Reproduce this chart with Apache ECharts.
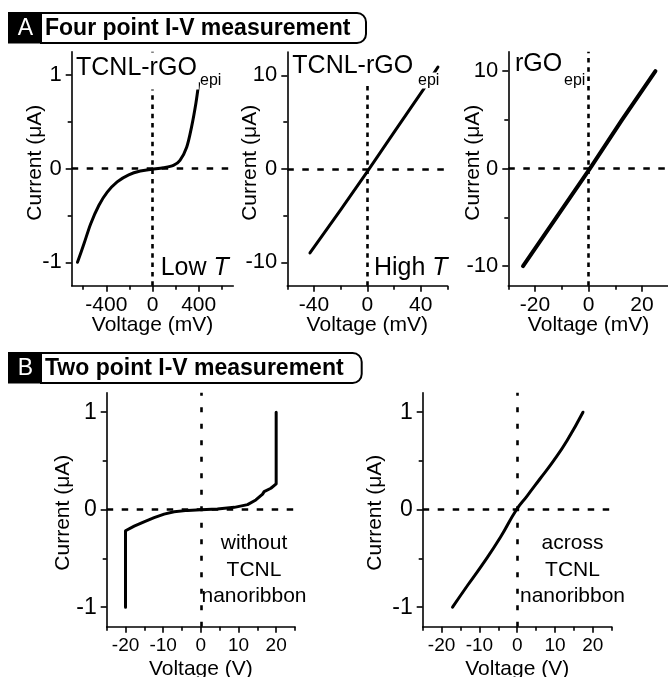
<!DOCTYPE html>
<html><head><meta charset="utf-8">
<script src="https://cdn.jsdelivr.net/npm/echarts@6/dist/echarts.min.js"></script>
<style>html,body{margin:0;padding:0;background:#fff}#c{width:668px;height:677px}</style>
</head><body><div id="c"></div>
<script>
// ---------- data ----------
// A1: TCNL-rGO_epi, low T, four point (Voltage mV, Current uA)
const a1Voltage = [-650, -593, -536, -464, -392, -306, -206, -106, -5, 95, 181, 238, 296, 339, 376, 400];
const a1Current = [-1.0, -0.80, -0.59, -0.39, -0.25, -0.14, -0.065, -0.025, -0.007, 0.01, 0.035, 0.09, 0.23, 0.45, 0.70, 0.91];
// A2: TCNL-rGO_epi, high T (mV, uA)
const a2Voltage = [-43, -20, 0, 20, 41.6, 53];
const a2Current = [-9.0, -4.4, -0.3, 3.9, 8.4, 10.9];
// A3: rGO_epi (mV, uA)
const a3Voltage = [-24.5, -12, 0.5, 12.5, 25];
const a3Current = [-10.0, -5.0, 0.0, 5.0, 10.0];
// B1: two point, without TCNL nanoribbon (V, uA)
const b1Voltage = [-20, -20, -17.7, -15.1, -12.4, -9.75, -7.1, -3.5, 0, 4.4, 8.9, 12.4, 14.6, 16.4, 16.8, 18.6, 20, 20];
const b1Current = [-1.0, -0.216, -0.168, -0.124, -0.082, -0.045, -0.021, -0.007, 0, 0.007, 0.024, 0.052, 0.10, 0.16, 0.185, 0.22, 0.265, 1.0];
// B2: two point, across TCNL nanoribbon (V, uA)
const b2Voltage = [-17.1, -13.2, -8.8, -4.4, -0.2, 2.6, 6.1, 9.6, 13.2, 17.4];
const b2Current = [-1.0, -0.78, -0.54, -0.28, 0.0, 0.14, 0.32, 0.5, 0.71, 1.0];

// tick values / labelled ticks
const a1XTicks = [-600, -400, -200, 0, 200, 400, 600];
const a1XLabels = [-400, 0, 400];
const a1YTicks = [-1, -0.5, 0, 0.5, 1];
const a1YLabels = [-1, 0, 1];
const a2XTicks = [-60, -40, -20, 0, 20, 40, 60];
const a2XLabels = [-40, 0, 40];
const a2YTicks = [-10, -5, 0, 5, 10];
const a2YLabels = [-10, 0, 10];
const a3XTicks = [-30, -20, -10, 0, 10, 20, 30];
const a3XLabels = [-20, 0, 20];
const a3YTicks = [-10, -5, 0, 5, 10];
const a3YLabels = [-10, 0, 10];
const bXTicks = [-25, -20, -15, -10, -5, 0, 5, 10, 15, 20, 25];
const bXLabels = [-20, -10, 0, 10, 20];
const bYTicks = [-1, -0.5, 0, 0.5, 1];
const bYLabels = [-1, 0, 1];

// ---------- styling / layout ----------
const FONT = '"Liberation Sans", Arial, Helvetica, sans-serif';
const BLACK = '#000';
const A_VDASH = [4.5, 4.8], B_VDASH = [5, 11.5], HDASH = [6.5, 8.5];

const panels = [
  { grid: { left: 71.7, top: 51.7, width: 161.6, height: 234 },
    x: { min: -700, max: 700, ticks: a1XTicks, labels: a1XLabels, name: 'Voltage (mV)', size: 21, margin: 9, gap: 29 },
    y: { min: -1.25, max: 1.25, ticks: a1YTicks, labels: a1YLabels, name: 'Current (\u03bcA)', size: 22, margin: 10, gap: 26, pad: [0, 0, 0, 12] },
    vx: a1Voltage, cy: a1Current, smooth: 0.3, width: 3, vdash: A_VDASH },
  { grid: { left: 287.3, top: 52, width: 160, height: 233.7 },
    x: { min: -60, max: 60, ticks: a2XTicks, labels: a2XLabels, name: 'Voltage (mV)', size: 21, margin: 9, gap: 29 },
    y: { min: -12.5, max: 12.5, ticks: a2YTicks, labels: a2YLabels, name: 'Current (\u03bcA)', size: 22, margin: 10, gap: 27, pad: [0, 0, 0, 12] },
    vx: a2Voltage, cy: a2Current, smooth: false, width: 3, vdash: A_VDASH },
  { grid: { left: 508.3, top: 51.7, width: 160.5, height: 234 },
    x: { min: -30, max: 30, ticks: a3XTicks, labels: a3XLabels, name: 'Voltage (mV)', size: 21, margin: 9, gap: 29 },
    y: { min: -12, max: 12, ticks: a3YTicks, labels: a3YLabels, name: 'Current (\u03bcA)', size: 22, margin: 10, gap: 25, pad: [0, 0, 0, 12] },
    vx: a3Voltage, cy: a3Current, smooth: false, width: 4, vdash: A_VDASH },
  { grid: { left: 106.7, top: 392.7, width: 188.3, height: 234 },
    x: { min: -25, max: 25, ticks: bXTicks, labels: bXLabels, name: 'Voltage (V)', size: 19, margin: 10, gap: 32 },
    y: { min: -1.2, max: 1.2, ticks: bYTicks, labels: bYLabels, name: 'Current (\u03bcA)', size: 23, margin: 10, gap: 33, pad: [0, 6, 0, 0] },
    vx: b1Voltage, cy: b1Current, smooth: false, width: 3, vdash: B_VDASH },
  { grid: { left: 422.7, top: 392.7, width: 189, height: 234 },
    x: { min: -25, max: 25, ticks: bXTicks, labels: bXLabels, name: 'Voltage (V)', size: 19, margin: 10, gap: 32 },
    y: { min: -1.2, max: 1.2, ticks: bYTicks, labels: bYLabels, name: 'Current (\u03bcA)', size: 23, margin: 10, gap: 37, pad: [0, 6, 0, 0] },
    vx: b2Voltage, cy: b2Current, smooth: 0.5, width: 3, vdash: B_VDASH }
];

function axisPair(dim, gi, c) {
  const minor = c.ticks.filter(v => c.labels.indexOf(v) < 0);
  const pos = dim === 'x' ? 'bottom' : 'left';
  const main = {
    type: 'value', gridIndex: gi, position: pos, min: c.min, max: c.max,
    name: c.name, nameLocation: 'middle', nameGap: c.gap, nameMoveOverlap: false,
    nameTextStyle: { fontFamily: FONT, fontSize: 21, color: BLACK, padding: c.pad || 0 },
    axisLine: { show: true, onZero: false, lineStyle: { color: BLACK, width: 1.6 } },
    axisTick: { show: true, inside: false, length: 6, customValues: c.labels, lineStyle: { color: BLACK, width: 1.6 } },
    axisLabel: { show: true, customValues: c.labels, fontFamily: FONT, fontSize: c.size, color: BLACK, margin: c.margin },
    splitLine: { show: false }, minorTick: { show: false }
  };
  const mn = {
    type: 'value', gridIndex: gi, position: pos, min: c.min, max: c.max,
    axisLine: { show: false, onZero: false },
    axisTick: { show: true, inside: false, length: 4, customValues: minor, lineStyle: { color: BLACK, width: 1.6 } },
    axisLabel: { show: false }, splitLine: { show: false }
  };
  return [main, mn];
}

const grids = [], xAxes = [], yAxes = [], series = [];
panels.forEach((p, gi) => {
  grids.push(Object.assign({ outerBoundsMode: 'none', containLabel: false }, p.grid));
  xAxes.push(...axisPair('x', gi, p.x));
  yAxes.push(...axisPair('y', gi, p.y));
  series.push({
    type: 'line', xAxisIndex: 2 * gi, yAxisIndex: 2 * gi,
    data: p.vx.map((v, k) => [v, p.cy[k]]),
    smooth: p.smooth, showSymbol: false, symbol: 'none',
    lineStyle: { color: BLACK, width: p.width, cap: 'round', join: 'round' },
    z: 3, animation: false, silent: true,
    markLine: {
      silent: true, symbol: 'none', animation: false,
      label: { show: false },
      lineStyle: { color: BLACK, width: 2.5 },
      data: [
        { xAxis: 0, lineStyle: { color: BLACK, width: 2.6, type: p.vdash } },
        { yAxis: 0, lineStyle: { color: BLACK, width: 2.6, type: HDASH } }
      ]
    }
  });
});

function txt(x, y, text, size, extra) {
  return {
    type: 'text', z: 100, silent: true,
    style: Object.assign({ x: x, y: y, text: text, fill: BLACK, font: size + 'px ' + FONT, align: 'left', verticalAlign: 'top' }, extra || {})
  };
}

const graphics = [
  // Section A title
  { type: 'rect', z: 100, shape: { x: 41, y: 13, width: 325, height: 30, r: [0, 9, 9, 0] }, style: { fill: '#fff', stroke: BLACK, lineWidth: 2 } },
  { type: 'rect', z: 101, shape: { x: 8, y: 12, width: 33, height: 31.5 }, style: { fill: BLACK } },
  { type: 'text', z: 103, style: { x: 25.5, y: 29, text: 'A', fill: '#fff', font: '23px ' + FONT, align: 'center', verticalAlign: 'middle' } },
  { type: 'text', z: 102, style: { x: 45, y: 29, text: 'Four point I-V measurement', fill: BLACK, font: 'bold 23px ' + FONT, verticalAlign: 'middle' } },
  // Section B title
  { type: 'rect', z: 100, shape: { x: 41, y: 353, width: 320.7, height: 30, r: [0, 9, 9, 0] }, style: { fill: '#fff', stroke: BLACK, lineWidth: 2 } },
  { type: 'rect', z: 101, shape: { x: 8, y: 352, width: 33, height: 31.5 }, style: { fill: BLACK } },
  { type: 'text', z: 103, style: { x: 25.5, y: 369, text: 'B', fill: '#fff', font: '23px ' + FONT, align: 'center', verticalAlign: 'middle' } },
  { type: 'text', z: 102, style: { x: 45, y: 369, text: 'Two point I-V measurement', fill: BLACK, font: 'bold 23px ' + FONT, verticalAlign: 'middle' } },
  // A1 labels
  txt(74, 52.5, 'TCNL-rGO', 25, { backgroundColor: '#fff', padding: [3, 2, 9, 2] }),
  txt(200, 72.5, 'epi', 16, { backgroundColor: '#fff' }),
  { type: 'text', z: 100, style: { x: 160.7, y: 268, text: 'Low {i|T}', fill: BLACK, font: '25px ' + FONT, verticalAlign: 'middle',
      rich: { i: { fontStyle: 'italic', fontSize: 25, fontFamily: FONT } } } },
  // A2 labels
  txt(290.3, 50.8, 'TCNL-rGO', 25, { backgroundColor: '#fff', padding: [3, 2, 4, 2] }),
  txt(418, 72.5, 'epi', 16, { backgroundColor: '#fff', padding: [0, 2, 0, 0] }),
  { type: 'text', z: 100, style: { x: 374, y: 268, text: 'High {i|T}', fill: BLACK, font: '25px ' + FONT, verticalAlign: 'middle',
      rich: { i: { fontStyle: 'italic', fontSize: 25, fontFamily: FONT } } } },
  // A3 labels
  txt(515, 51.8, 'rGO', 25),
  txt(564, 72.5, 'epi', 16),
  // B labels
  txt(254, 530.3, 'without\nTCNL\nnanoribbon', 21, { align: 'center', lineHeight: 26.3 }),
  txt(572.5, 530.3, 'across\nTCNL\nnanoribbon', 21, { align: 'center', lineHeight: 26.3 })
];

const chart = echarts.init(document.getElementById('c'), null, { renderer: 'canvas' });
chart.setOption({
  backgroundColor: '#fff',
  animation: false,
  grid: grids,
  xAxis: xAxes,
  yAxis: yAxes,
  series: series,
  graphic: graphics
});
</script>
</body></html>
